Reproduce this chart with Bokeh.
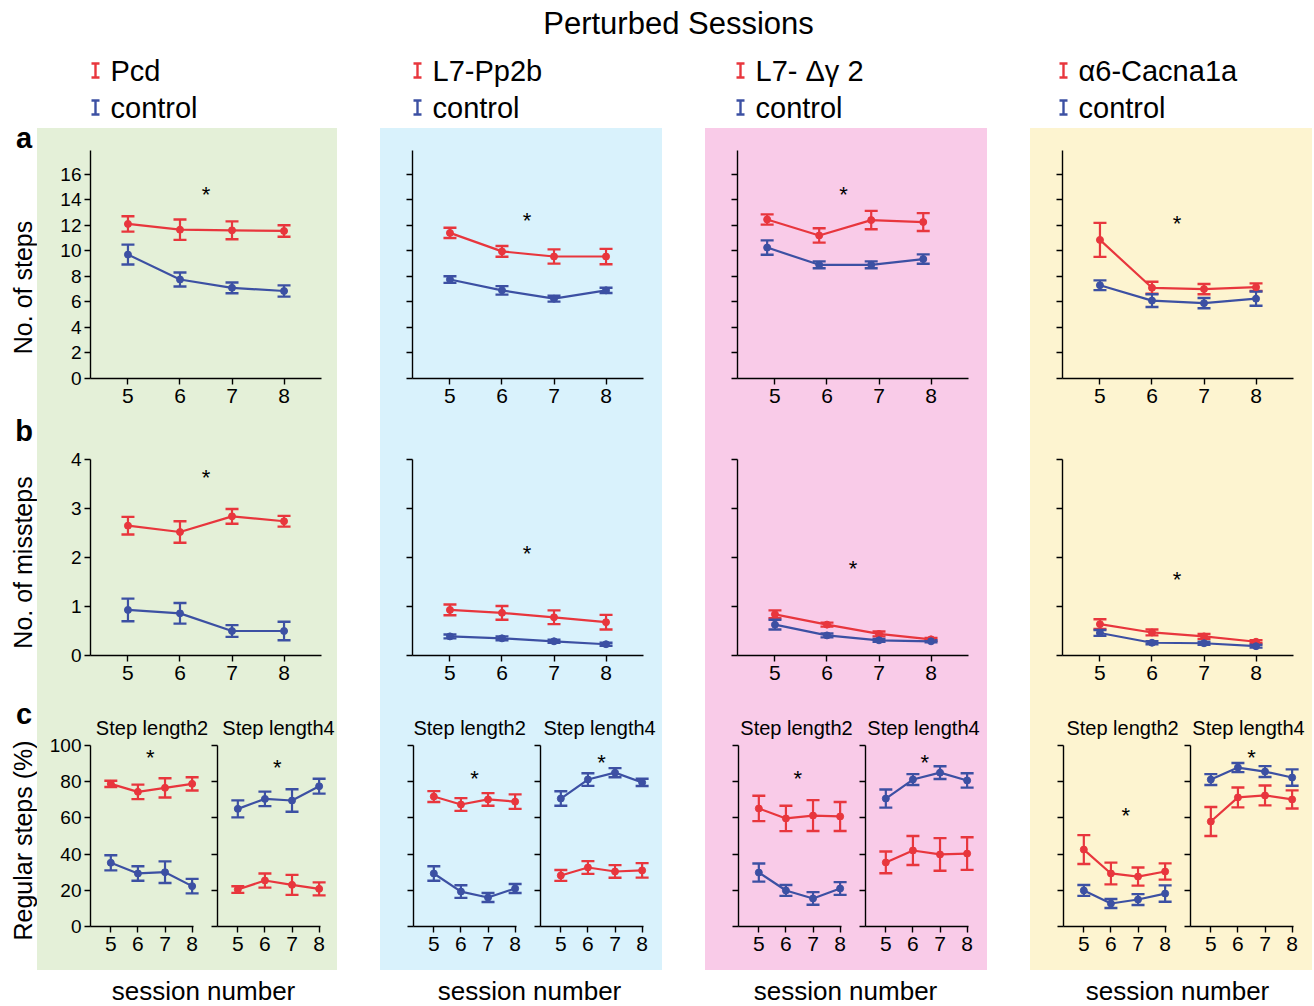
import math
from bokeh.plotting import figure
from bokeh.models import (Range1d, FixedTicker, ColumnDataSource, Whisker, TeeHead,
                          Spacer, CustomJSTickFormatter)
from bokeh.layouts import row, column
from bokeh.core.properties import value
from bokeh.embed import file_html
from bokeh.resources import INLINE

FONT = "Liberation Sans"
RED = "#e8363d"
BLUE = "#3c50a3"

# ---------------- data ----------------
sessions = [5, 6, 7, 8]
group_names = ["Pcd", "L7-Pp2b", "L7- Δγ 2", "α6-Cacna1a"]
control_name = "control"
panel_colors = ["#e4f0d8", "#d9f2fc", "#f9cbe8", "#fdf4d0"]
title_text = "Perturbed Sessions"
xlabel_text = "session number"
ylabels = ["No. of steps", "No. of missteps", "Regular steps (%)"]
panel_letters = ["a", "b", "c"]
sub_titles = ["Step length2", "Step length4"]

# (a) number of steps: mutant / control, mean and s.e.m.
steps_mut = [[12.1, 11.65, 11.6, 11.55], [11.4, 9.95, 9.55, 9.55],
             [12.45, 11.2, 12.4, 12.25], [10.85, 7.1, 7.0, 7.15]]
steps_mut_err = [[0.6, 0.8, 0.7, 0.45], [0.4, 0.42, 0.56, 0.6],
                 [0.4, 0.56, 0.72, 0.7], [1.33, 0.47, 0.4, 0.3]]
steps_ctl = [[9.7, 7.75, 7.1, 6.85], [7.75, 6.9, 6.25, 6.9],
             [10.25, 8.9, 8.9, 9.35], [7.3, 6.1, 5.9, 6.25]]
steps_ctl_err = [[0.78, 0.55, 0.42, 0.44], [0.26, 0.33, 0.23, 0.21],
                 [0.56, 0.27, 0.27, 0.37], [0.38, 0.5, 0.4, 0.56]]
steps_star = [(6.5, 14.8), (6.48, 12.8), (6.32, 14.8), (6.48, 12.5)]
steps_dodge = [0.0, 0.0, -0.15, 0.0]

# (b) number of missteps
miss_mut = [[2.65, 2.52, 2.84, 2.74], [0.93, 0.87, 0.78, 0.68],
            [0.84, 0.63, 0.44, 0.33], [0.64, 0.47, 0.39, 0.28]]
miss_mut_err = [[0.18, 0.22, 0.15, 0.11], [0.11, 0.14, 0.14, 0.15],
                [0.08, 0.04, 0.05, 0.03], [0.1, 0.06, 0.05, 0.03]]
miss_ctl = [[0.93, 0.86, 0.5, 0.5], [0.39, 0.35, 0.29, 0.23],
            [0.63, 0.41, 0.31, 0.29], [0.46, 0.26, 0.25, 0.19]]
miss_ctl_err = [[0.23, 0.21, 0.12, 0.19], [0.04, 0.04, 0.03, 0.03],
                [0.1, 0.04, 0.03, 0.02], [0.06, 0.03, 0.03, 0.03]]
miss_star = [(6.5, 3.73), (6.48, 2.18), (6.5, 1.87), (6.48, 1.65)]

# (c) regular steps (%), step length 2
reg2_mut = [[78.8, 74.4, 76.6, 78.8], [71.8, 67.4, 70.2, 69.0],
            [65.2, 59.7, 61.3, 60.8], [42.5, 29.3, 27.6, 30.4]]
reg2_mut_err = [[1.7, 4.0, 5.3, 3.7], [3.0, 3.5, 3.5, 4.0],
                [7.0, 7.0, 8.5, 8.0], [8.0, 6.0, 5.0, 4.5]]
reg2_ctl = [[35.2, 29.3, 30.0, 22.3], [29.3, 19.3, 16.0, 21.0],
            [29.8, 19.9, 15.5, 21.0], [19.9, 12.7, 14.9, 18.2]]
reg2_ctl_err = [[4.2, 4.0, 6.0, 4.0], [4.0, 3.5, 2.5, 2.5],
                [5.0, 3.0, 3.5, 3.5], [3.0, 2.5, 3.0, 4.5]]
reg2_star = [(6.46, 96.1), (6.5, 84.5), (6.44, 84.5), (6.55, 64.0)]

# (c) regular steps (%), step length 4
reg4_mut = [[20.4, 25.4, 23.0, 20.8], [28.2, 32.6, 30.4, 31.0],
            [35.4, 42.0, 39.8, 40.3], [58.0, 71.3, 72.4, 70.2]]
reg4_mut_err = [[1.8, 3.9, 5.5, 3.6], [3.0, 3.5, 3.5, 4.0],
                [6.0, 8.0, 9.0, 9.0], [8.0, 5.5, 5.5, 5.0]]
reg4_ctl = [[65.0, 70.5, 69.6, 77.5], [70.7, 81.2, 85.0, 79.6],
            [70.7, 81.2, 85.0, 80.7], [81.2, 87.8, 85.6, 82.3]]
reg4_ctl_err = [[4.7, 4.0, 6.2, 4.1], [4.0, 3.5, 2.5, 2.0],
                [5.0, 3.0, 3.5, 4.0], [3.0, 2.5, 3.0, 4.5]]
reg4_star = [(6.46, 90.8), (6.5, 93.4), (6.44, 93.4), (6.5, 96.1)]

steps_ticks = [0, 2, 4, 6, 8, 10, 12, 14, 16]
miss_ticks = [0, 1, 2, 3, 4]
reg_ticks = [0, 20, 40, 60, 80, 100]

# ---------------- layout geometry (page pixels) ----------------
TOTAL_W = 1312
LEFT_W = 37
GAP_W = 43
GROUP_W = [300, 282, 282, 282]
GROUP_X = [37, 380, 705, 1030]
H_HDR, H_A, H_B, H_C, H_FTR = 128, 287, 275, 280, 35
XR_AB = (4.28, 8.72)
C_X0, C_PX_PER_UNIT, C_XMAX = 4.25, 27.1, 8.05
C_FRAME_H, C_PX_PER_PCT = 221, 1.81
sub_x = [(6.52, 6.5), (6.32, 6.43), (6.39, 6.39), (6.43, 6.39)]
SUB_Y_PX = 199          # subtitle height above the 0 line, pixels
STAR_DROP_PX = 5        # asterisk glyph sits above its text middle


def make_plot(width, height, bl, br, bt, bb, xr, yr, yticks, show_ylabels):
    p = figure(width=width, height=height, x_range=Range1d(*xr), y_range=Range1d(*yr),
               output_backend="svg", toolbar_location=None,
               min_border_left=bl, min_border_right=br,
               min_border_top=bt, min_border_bottom=bb,
               background_fill_color=None, border_fill_color=None, outline_line_color=None)
    p.grid.visible = False
    p.xaxis.ticker = FixedTicker(ticks=sessions)
    p.yaxis.ticker = FixedTicker(ticks=yticks)
    for ax in (p.xaxis[0], p.yaxis[0]):
        ax.axis_line_color = "black"
        ax.axis_line_width = 1.4
        ax.major_tick_line_color = "black"
        ax.major_tick_line_width = 1.4
        ax.major_tick_out = 6
        ax.major_tick_in = 0
        ax.minor_tick_out = 0
        ax.minor_tick_in = 0
        ax.major_label_text_font = FONT
        ax.major_label_text_color = "black"
    p.xaxis.major_label_text_font_size = "21px"
    p.xaxis.major_label_standoff = 4
    p.yaxis.major_label_text_font_size = "19px"
    p.yaxis.major_label_standoff = 3
    if not show_ylabels:
        p.yaxis.formatter = CustomJSTickFormatter(code="return ''")
        p.yaxis.major_label_standoff = 0
    return p


def draw_series(p, mean, err, color, dodge=0.0):
    xs = [s + dodge for s in sessions]
    src = ColumnDataSource(dict(x=xs, y=mean,
                                lo=[m - e for m, e in zip(mean, err)],
                                hi=[m + e for m, e in zip(mean, err)]))
    p.line("x", "y", source=src, line_color=color, line_width=2.2)
    p.add_layout(Whisker(source=src, base="x", upper="hi", lower="lo", dimension="height",
                         line_color=color, line_width=2.2,
                         upper_head=TeeHead(size=13, line_color=color, line_width=2.4),
                         lower_head=TeeHead(size=13, line_color=color, line_width=2.4)))
    p.scatter("x", "y", source=src, size=7, fill_color=color, line_color=color)


def draw_star(p, pos, units_per_px):
    p.text(x=[pos[0]], y=[pos[1] - STAR_DROP_PX * units_per_px], text=["*"],
           text_font=value(FONT), text_font_size="22px", text_align="center",
           text_baseline="middle", text_color="black")


def blank(width, height, x0, y0):
    f = figure(width=width, height=height, x_range=Range1d(x0, x0 + width),
               y_range=Range1d(y0 + height, y0), output_backend="svg",
               toolbar_location=None, min_border=0, outline_line_color=None,
               x_axis_location=None, y_axis_location=None,
               background_fill_color=None, border_fill_color=None)
    f.grid.visible = False
    return f


RIGHT_W = TOTAL_W - LEFT_W
body_h = H_A + H_B + H_C
page_h = H_HDR + body_h + H_FTR

# ---------------- header ----------------
hdr = blank(RIGHT_W, H_HDR, LEFT_W, 0)
hdr.text(x=[678], y=[23], text=[title_text], text_font=value(FONT), text_font_size="31px",
         text_align="center", text_baseline="middle", text_color="black")
leg_dx = [58, 37, 35, 33]
leg_y = [70, 107]
for g in range(4):
    ix = GROUP_X[g] + leg_dx[g]
    for yy, col, lab in ((leg_y[0], RED, group_names[g]), (leg_y[1], BLUE, control_name)):
        hdr.segment(x0=[ix, ix - 4, ix - 4], y0=[yy - 7, yy - 7, yy + 7],
                    x1=[ix, ix + 4, ix + 4], y1=[yy + 7, yy - 7, yy + 7],
                    line_color=col, line_width=2.4)
        hdr.text(x=[ix + 15], y=[yy], text=[lab], text_font=value(FONT),
                 text_font_size="29px", text_align="left", text_baseline="middle",
                 text_color="black")

# ---------------- left label column (full page height) ----------------
lc = blank(LEFT_W, page_h, 0, 0)
lc.text(x=[23.5, 23.5, 23.5], y=[137, 430, 713], text=panel_letters, text_font=value(FONT),
        text_font_size="29px", text_font_style="bold", text_align="center",
        text_baseline="middle", text_color="black")
lc.text(x=[22, 22.5, 22], y=[287, 562, 840], text=ylabels, text_font=value(FONT),
        text_font_size="25px", text_align="center", text_baseline="middle",
        angle=math.pi / 2, text_color="black")

# ---------------- groups ----------------
group_cols = []
for g in range(4):
    first = (g == 0)
    W = GROUP_W[g]
    bl_ab = 53 if first else 32
    br_ab = W - bl_ab - 231

    pa = make_plot(W, H_A, bl_ab, br_ab, 22, 37, XR_AB, (0, 17.85), steps_ticks, first)
    draw_series(pa, steps_mut[g], steps_mut_err[g], RED, steps_dodge[g])
    draw_series(pa, steps_ctl[g], steps_ctl_err[g], BLUE, steps_dodge[g])
    draw_star(pa, steps_star[g], 17.85 / 228)

    pb = make_plot(W, H_B, bl_ab, br_ab, 44, 35, XR_AB, (0, 4), miss_ticks, first)
    draw_series(pb, miss_mut[g], miss_mut_err[g], RED)
    draw_series(pb, miss_ctl[g], miss_ctl_err[g], BLUE)
    draw_star(pb, miss_star[g], 4 / 196)

    if first:
        wl, bl_l = 174, 53
    else:
        wl, bl_l = 154, 33
    wr = W - wl
    c_ymax = C_FRAME_H / C_PX_PER_PCT
    subs = []
    for (wd, bl) in ((wl, bl_l), (wr, 6)):
        frame_w = wd - bl
        xr = (C_X0, C_X0 + frame_w / C_PX_PER_UNIT)
        pc = make_plot(wd, H_C, bl, 0, 15, 44, xr, (0, c_ymax), reg_ticks,
                       first and bl == bl_l)
        pc.xaxis.bounds = (C_X0, C_XMAX)
        pc.yaxis.bounds = (0, 100)
        subs.append(pc)
    pcl, pcr = subs
    draw_series(pcl, reg2_mut[g], reg2_mut_err[g], RED)
    draw_series(pcl, reg2_ctl[g], reg2_ctl_err[g], BLUE)
    draw_star(pcl, reg2_star[g], 1 / C_PX_PER_PCT)
    draw_series(pcr, reg4_mut[g], reg4_mut_err[g], RED)
    draw_series(pcr, reg4_ctl[g], reg4_ctl_err[g], BLUE)
    draw_star(pcr, reg4_star[g], 1 / C_PX_PER_PCT)
    for pp, st, sx in ((pcl, sub_titles[0], sub_x[g][0]), (pcr, sub_titles[1], sub_x[g][1])):
        pp.text(x=[sx], y=[SUB_Y_PX / C_PX_PER_PCT], text=[st], text_font=value(FONT),
                text_font_size="20px", text_align="center", text_baseline="middle",
                text_color="black")

    group_cols.append(column(pa, pb, row(pcl, pcr),
                             styles={"background-color": panel_colors[g]}))

body = row(group_cols[0], Spacer(width=GAP_W, height=body_h), group_cols[1],
           Spacer(width=GAP_W, height=body_h), group_cols[2],
           Spacer(width=GAP_W, height=body_h), group_cols[3])

# ---------------- footer ----------------
ftr = blank(RIGHT_W, H_FTR, LEFT_W, H_HDR + body_h)
ftr.text(x=[203, 529, 845, 1177], y=[990] * 4, text=[xlabel_text] * 4, text_font=value(FONT),
         text_font_size="26px", text_align="center", text_baseline="middle",
         text_color="black")

page = row(lc, column(hdr, body, ftr))
open("out.html", "w").write(file_html(page, INLINE))
